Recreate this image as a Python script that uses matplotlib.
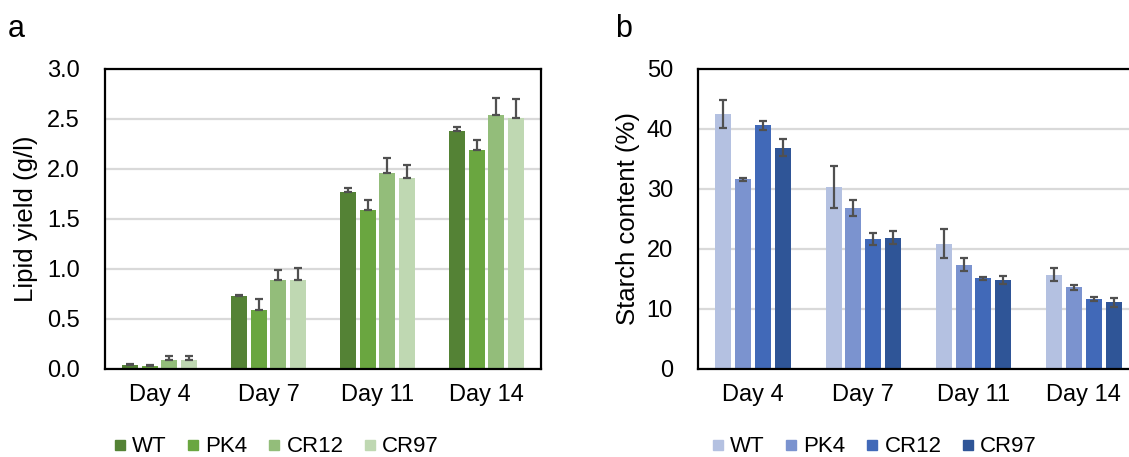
import matplotlib

matplotlib.use("Agg")
import matplotlib.pyplot as plt
import numpy as np
from matplotlib.lines import Line2D

plt.rcParams["font.family"] = ["Liberation Sans", "DejaVu Sans"]

days = ["Day 4", "Day 7", "Day 11", "Day 14"]
strains = ["WT", "PK4", "CR12", "CR97"]

# panel a: lipid yield (g/l), one list per strain over the days
lipid = {
    "WT": [0.04, 0.73, 1.77, 2.38],
    "PK4": [0.03, 0.59, 1.59, 2.19],
    "CR12": [0.09, 0.89, 1.96, 2.54],
    "CR97": [0.09, 0.89, 1.91, 2.51],
}
lipid_err = {
    "WT": [0.01, 0.01, 0.04, 0.04],
    "PK4": [0.01, 0.11, 0.10, 0.095],
    "CR12": [0.04, 0.10, 0.15, 0.165],
    "CR97": [0.04, 0.12, 0.13, 0.19],
}

# panel b: starch content (%)
starch = {
    "WT": [42.5, 30.4, 20.9, 15.7],
    "PK4": [31.6, 26.8, 17.4, 13.6],
    "CR12": [40.6, 21.6, 15.1, 11.7],
    "CR97": [36.9, 21.9, 14.8, 11.1],
}
starch_err = {
    "WT": [2.3, 3.5, 2.4, 1.1],
    "PK4": [0.2, 1.3, 1.1, 0.4],
    "CR12": [0.8, 1.0, 0.3, 0.3],
    "CR97": [1.4, 1.1, 0.7, 0.7],
}

greens = ["#548235", "#6aa640", "#93bd7a", "#bfd8b2"]
blues = ["#b4c1e1", "#7b93cf", "#4169b8", "#2f5597"]
ERR_COLOR = "#505050"
TICK_FS = 17
LABEL_FS = 18.5
LEG_FS = 16


def _panel(fig, rect, values, errors, colors, ylim, yticks, fmt, ylabel, label_x, upper_only):
    ax = fig.add_axes(rect)
    x = np.arange(len(days))
    offsets = (np.arange(len(strains)) - 1.5) * 0.18
    for i, s in enumerate(strains):
        err = np.array(errors[s])
        yerr = np.vstack([np.zeros_like(err), err]) if upper_only else err
        ax.bar(
            x + offsets[i], values[s], width=0.145, color=colors[i], zorder=2,
            yerr=yerr, capsize=3,
            error_kw=dict(ecolor=ERR_COLOR, elinewidth=1.6, capthick=1.6, zorder=3),
        )
    ax.set_xlim(-0.5, len(days) - 0.5)
    ax.set_ylim(*ylim)
    ax.set_yticks(yticks)
    ax.set_yticklabels([fmt.format(v) for v in yticks])
    ax.set_xticks(x)
    ax.set_xticklabels(days)
    ax.tick_params(length=0, labelsize=TICK_FS, colors="#000000")
    ax.tick_params(axis="y", pad=18)
    ax.tick_params(axis="x", pad=11)
    ax.yaxis.grid(True, color="#d9d9d9", linewidth=1.6, zorder=0)
    ax.set_axisbelow(True)
    for sp in ax.spines.values():
        sp.set_linewidth(1.6)
        sp.set_color("#000000")
    ax.set_ylabel(ylabel, fontsize=LABEL_FS)
    ax.yaxis.set_label_coords(label_x, 0.5)
    return ax


fig = plt.figure(figsize=(11.29, 4.57), dpi=100)

ax_a = _panel(
    fig, [0.0930, 0.1926, 0.3862, 0.6565], lipid, lipid_err, greens,
    (0, 3.0), [0, 0.5, 1.0, 1.5, 2.0, 2.5, 3.0], "{:.1f}",
    "Lipid yield (g/l)", -0.154, True,
)
ax_b = _panel(
    fig, [0.6182, 0.1926, 0.3906, 0.6565], starch, starch_err, blues,
    (0, 50), [0, 10, 20, 30, 40, 50], "{:.0f}",
    "Starch content (%)", -0.131, False,
)

fig.text(0.007, 1 - 37 / 457, "a", fontsize=22, va="baseline")
fig.text(0.5447, 1 - 37 / 457, "b", fontsize=22, va="baseline")

for colors, cx in ((greens, 276 / 1129), (blues, 874 / 1129)):
    handles = [
        Line2D([], [], linestyle="none", marker="s", markersize=7,
               markerfacecolor=c, markeredgecolor=c)
        for c in colors
    ]
    fig.legend(
        handles, strains, loc="center", bbox_to_anchor=(cx, 1 - 447 / 457),
        ncol=4, frameon=False, fontsize=LEG_FS, handlelength=0.6,
        handletextpad=0.25, columnspacing=0.9, borderaxespad=0, borderpad=0,
    )

fig.savefig("out.png", dpi=100)
